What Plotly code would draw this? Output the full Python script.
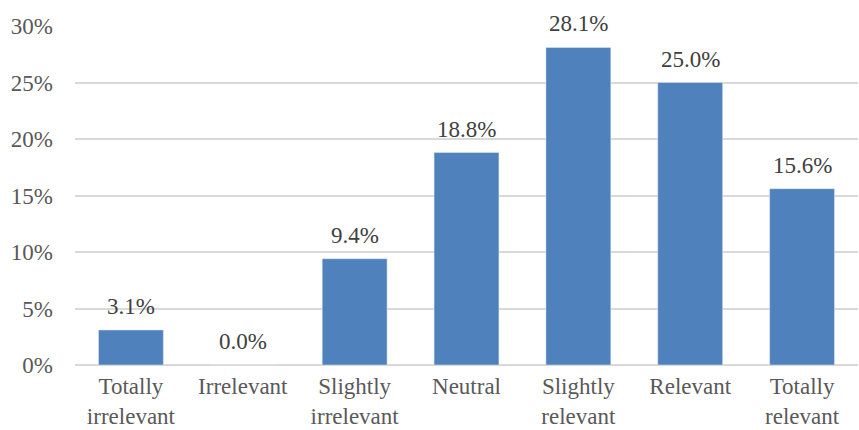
import plotly.graph_objects as go

categories = ["Totally<br>irrelevant", "Irrelevant", "Slightly<br>irrelevant", "Neutral",
              "Slightly<br>relevant", "Relevant", "Totally<br>relevant"]
values = [0.031, 0.0, 0.094, 0.188, 0.281, 0.250, 0.156]
labels = ["3.1%", "0.0%", "9.4%", "18.8%", "28.1%", "25.0%", "15.6%"]
tick_vals = [0, 0.05, 0.10, 0.15, 0.20, 0.25, 0.30]
tick_text = ["0%", "5%", "10%", "15%", "20%", "25%", "30%"]

font_family = "Liberation Serif, Times New Roman, serif"

fig = go.Figure(go.Bar(
    x=categories, y=values,
    marker=dict(color="#4F81BD"),
))
for c, v, t in zip(categories, values, labels):
    fig.add_annotation(x=c, y=v, text=t, showarrow=False, yanchor="bottom", yshift=9,
                       font=dict(family=font_family, size=23, color="#404040"))
fig.update_layout(
    width=859, height=430,
    margin=dict(l=75, r=1, t=26, b=65),
    plot_bgcolor="white", paper_bgcolor="white",
    bargap=0.42, showlegend=False,
    font=dict(family=font_family, size=23, color="#595959"),
)
fig.update_yaxes(range=[0, 0.30], tickvals=tick_vals, ticktext=tick_text,
                 showgrid=True, gridcolor="#D9D9D9", gridwidth=1.5,
                 zeroline=True, zerolinecolor="#D9D9D9", zerolinewidth=1.5,
                 ticks="", ticklabelstandoff=21, automargin=False)
fig.update_xaxes(showgrid=False, ticks="", tickfont=dict(size=23), ticklabelstandoff=5,
                 automargin=False)
fig.write_html("out.html")
